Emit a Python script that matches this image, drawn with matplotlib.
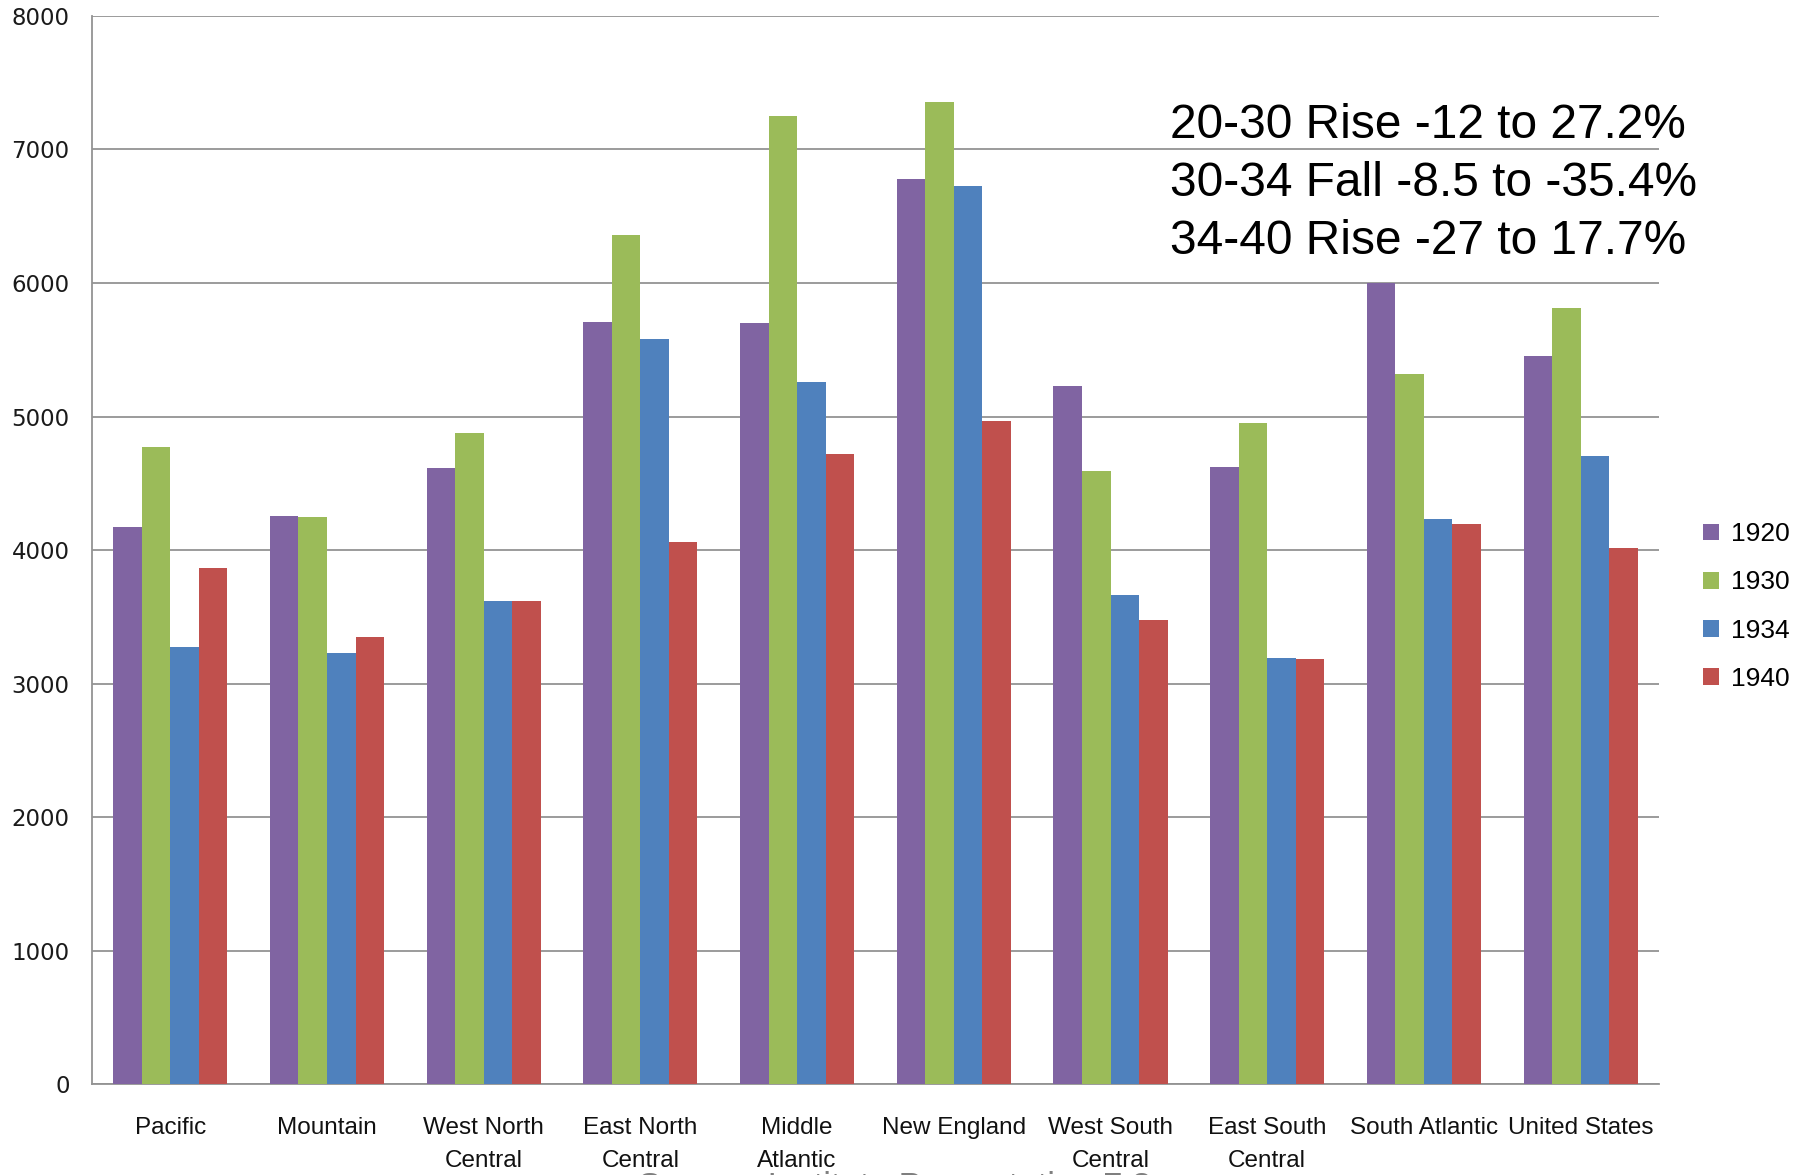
import matplotlib
matplotlib.use("Agg")
import matplotlib.pyplot as plt
import numpy as np

regions = ["Pacific", "Mountain", "West North\nCentral", "East North\nCentral",
           "Middle\nAtlantic", "New England", "West South\nCentral",
           "East South\nCentral", "South Atlantic", "United States"]
years = ["1920", "1930", "1934", "1940"]

v1920 = [4170, 4255, 4615, 5710, 5700, 6780, 5230, 4620, 6000, 5455]
v1930 = [4770, 4245, 4880, 6360, 7250, 7355, 4590, 4950, 5320, 5810]
v1934 = [3270, 3230, 3620, 5580, 5260, 6730, 3665, 3190, 4235, 4705]
v1940 = [3865, 3345, 3620, 4060, 4720, 4970, 3475, 3180, 4195, 4018]

notes = ["20-30 Rise -12 to 27.2%",
         "30-34 Fall -8.5 to -35.4%",
         "34-40 Rise -27 to 17.7%"]

colors = ["#8064A2", "#9BBB59", "#4F81BD", "#C0504D"]
sans = ["Liberation Sans", "DejaVu Sans"]

fig = plt.figure(figsize=(17.96, 11.75), dpi=100)
ax = fig.add_axes([0.0512, 0.0774, 0.8725, 0.909])

x = np.arange(len(regions))
w = 0.182
for i, (vals, yr) in enumerate(zip([v1920, v1930, v1934, v1940], years)):
    ax.bar(x + (i - 1.5) * w, vals, width=w, color=colors[i], label=yr,
           zorder=3, linewidth=0)

ax.set_xlim(-0.5, len(regions) - 0.5)
ax.set_ylim(0, 8000)
ax.set_yticks(range(0, 8001, 1000))
ax.yaxis.grid(True, color="#939393", linewidth=1.3, zorder=0)
ax.set_axisbelow(True)

for s in ["top", "right"]:
    ax.spines[s].set_visible(False)
for s in ["left", "bottom"]:
    ax.spines[s].set_color("#939393")
    ax.spines[s].set_linewidth(1.3)

ax.tick_params(axis="y", length=0, pad=16, labelsize=16.5, labelcolor="#1a1a1a")
ax.tick_params(axis="x", length=0, pad=24)
ax.set_xticks(x)
ax.set_xticklabels(regions, fontsize=17.5, family=sans, color="#111111",
                   linespacing=1.6, va="top")

# year legend on the right
leg = ax.legend(loc="center left", bbox_to_anchor=(1.013, 0.447), frameon=False,
                handlelength=0.6, handleheight=0.6, handletextpad=0.45,
                labelspacing=0.92, prop={"family": sans, "size": 19})

# change summary
for k, line in enumerate(notes):
    fig.text(1170 / 1796, 1 - (126 + 58 * k) / 1175, line, fontsize=34.5,
             family="Liberation Sans", va="center", ha="left", color="black")

fig.text(638 / 1796, 1 - 1171 / 1175, "Source: Institute Presentation 7.3",
         fontsize=25, family="Liberation Sans", color="#7f7f7f",
         va="top", ha="left")

fig.savefig("out.png", dpi=100)
plt.close("all")
